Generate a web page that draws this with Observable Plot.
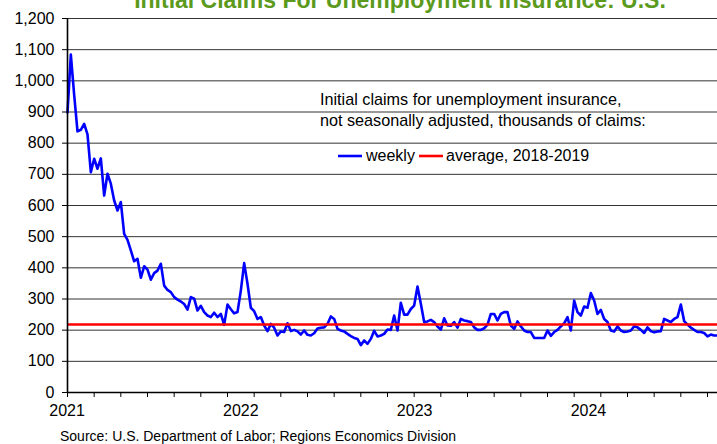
<!DOCTYPE html>
<html><head><meta charset="utf-8">
<script src="https://cdn.jsdelivr.net/npm/d3@7"></script>
<script src="https://cdn.jsdelivr.net/npm/@observablehq/plot@0.6"></script>
<style>html,body{margin:0;padding:0;background:#fff;overflow:hidden}</style>
</head><body><div id="chart"></div>
<script>
// ---- data (thousands of claims, weekly, not seasonally adjusted) ----
const firstWeek = "2021-01-02";
const weeklyClaims = [
  899,1084,955,838,843,862,828,707,750,718,751,632,702,670,616,584,611,509,490,456,421,429,
  368,405,394,362,383,391,413,343,329,322, 306,298,292,284,266,306,301,263,278,258,
  247,242,256,242,252,217,282,267,254,258, 327,415,349,272,261,236,242,215,197,220,
  208,183,196,194,222,197,201,196,186,199, 185,183,190,205,208,209,220,244,236,204,
  199,196,188,181,175,172,152,167,156,172, 198,180,183,188,202,201,247,199,288,250,
  250,268,279,340,285,226,228,233,226,212, 202,238,215,214,226,208,236,231,229,226,
  209,201,201,206,218,252,252,231,252,258, 258,215,204,228,212,199,194,
  194,175,175,175,175,199,182,194,201,212, 222,242,199,295,258,247,276,272,319,295,
  252,265,236,226,199,196,212,199,194,196, 199,212,209,201,191,209,197,193,196,197,
  236,231,226,236,242,282,229,218,208,201, 194,194,191,180,186,183,183
];
const average2018_2019 = 218;
const yTicks = [0,100,200,300,400,500,600,700,800,900,1000,1100,1200];
const yearLabels = ["2021","2022","2023","2024"];
const titleText = "Initial Claims For Unemployment Insurance: U.S.";
const noteLines = ["Initial claims for unemployment insurance,", "not seasonally adjusted, thousands of claims:"];
const legendLabels = ["weekly", "average, 2018-2019"];
const sourceText = "Source: U.S. Department of Labor; Regions Economics Division";

// ---- build ----
const start = new Date(firstWeek + "T00:00:00Z");
const data = weeklyClaims.map((v, i) => ({date: d3.utcDay.offset(start, 7 * i), value: v}));
const minorTicks = data.filter((d, i) => i % 8 === 0).map(d => d.date);
const yearTicks = yearLabels.map(y => new Date(Date.UTC(+y, 0, 1)));
const FONT = "'Liberation Sans', Arial, sans-serif";

const chart = Plot.plot({
  width: 717, height: 444,
  marginLeft: 67, marginRight: 0, marginTop: 18, marginBottom: 52,
  style: {fontFamily: FONT, fontSize: "16px", color: "#000", background: "#fff", overflow: "visible"},
  x: {type: "utc", domain: [data[0].date, data[data.length - 1].date]},
  y: {domain: [0, 1200]},
  marks: [
    Plot.ruleY(yTicks.filter(t => t > 0), {stroke: "#333", strokeWidth: 1}),
    Plot.line(data, {x: "date", y: "value", stroke: "#0000ff", strokeWidth: 2.6}),
    Plot.ruleY([average2018_2019], {stroke: "#ff0000", strokeWidth: 2.6}),
    Plot.axisY({ticks: yTicks, tickFormat: d3.format(","), tickSize: 5, tickPadding: 8, label: null}),
    Plot.axisX({ticks: minorTicks, tickFormat: () => "", tickSize: 5, label: null}),
    Plot.axisX({ticks: yearTicks, tickFormat: d => yearLabels.find(y => +y === d.getUTCFullYear()), tickSize: 0, tickPadding: 12, label: null}),
    Plot.ruleX([data[0].date], {stroke: "#000", strokeWidth: 1.6}),
    Plot.ruleY([0], {stroke: "#000", strokeWidth: 1.6})
  ]
});
document.getElementById("chart").appendChild(chart);

const svg = d3.select(chart);
svg.append("text").attr("x", 400).attr("y", 8).attr("text-anchor", "middle")
  .attr("font-family", FONT).attr("font-weight", "bold").attr("font-size", 23)
  .attr("fill", "#5b9a1c").text(titleText);
noteLines.forEach((t, i) => svg.append("text").attr("x", 320).attr("y", 105 + i * 21)
  .attr("text-anchor", "start").attr("font-family", FONT).attr("font-size", 16.2).attr("fill", "#000").text(t));
const lg = svg.append("g").attr("font-family", FONT).attr("font-size", 16).attr("text-anchor", "start");
lg.append("line").attr("x1", 338).attr("x2", 362).attr("y1", 156).attr("y2", 156).attr("stroke", "#0000ff").attr("stroke-width", 2.6);
lg.append("text").attr("x", 366).attr("y", 161).text(legendLabels[0]);
lg.append("line").attr("x1", 419).attr("x2", 443).attr("y1", 156).attr("y2", 156).attr("stroke", "#ff0000").attr("stroke-width", 2.6);
lg.append("text").attr("x", 446).attr("y", 161).text(legendLabels[1]);
svg.append("text").attr("x", 60).attr("y", 441).attr("text-anchor", "start").attr("font-family", FONT).attr("font-size", 14)
  .attr("fill", "#000").text(sourceText);
</script></body></html>
